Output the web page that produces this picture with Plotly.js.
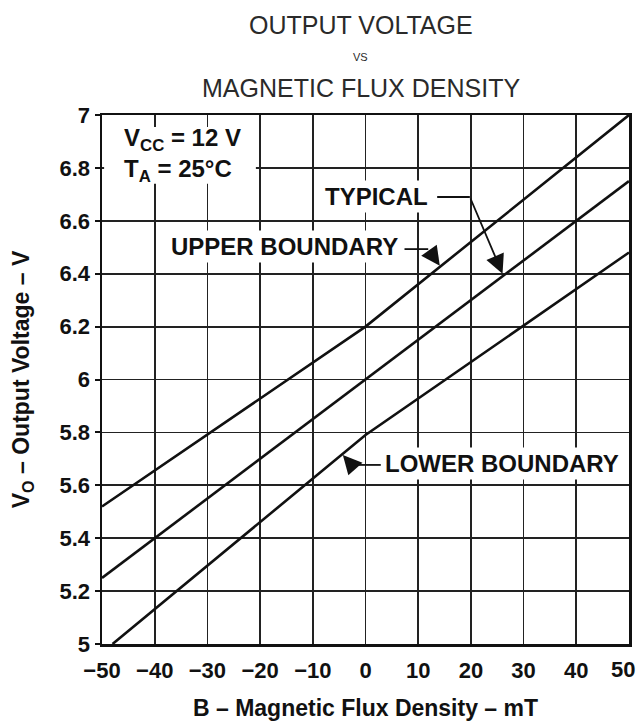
<!DOCTYPE html>
<html><head><meta charset="utf-8">
<script src="https://cdn.plot.ly/plotly-3.0.1.min.js"></script>
<style>html,body{margin:0;padding:0;background:#fff}#chart{width:639px;height:721px}</style>
</head><body><div id="chart"></div>
<script>
// ---- data ----
const upperB = [-50, 0, 50];
const upperV = [5.52, 6.20, 7.00];
const typicalB = [-50, 0, 50];
const typicalV = [5.25, 6.00, 6.75];
const lowerB = [-48, 0, 50];
const lowerV = [5.00, 5.79, 6.48];

const xTickVals = [-50, -40, -30, -20, -10, 0, 10, 20, 30, 40, 50];
const xTickText = ['\u221250', '\u221240', '\u221230', '\u221220', '\u221210', '0', '10', '20', '30', '40', '50'];
const yTickVals = [5, 5.2, 5.4, 5.6, 5.8, 6, 6.2, 6.4, 6.6, 6.8, 7];
const yTickText = ['5', '5.2', '5.4', '5.6', '5.8', '6', '6.2', '6.4', '6.6', '6.8', '7'];

const titleLines = ['OUTPUT VOLTAGE', 'VS', 'MAGNETIC FLUX DENSITY'];
const curveNames = ['UPPER BOUNDARY', 'TYPICAL', 'LOWER BOUNDARY'];
const conditionText = 'V<sub>CC</sub> = 12 V<br>T<sub>A</sub> = 25\u00B0C';

// ---- drawing ----
const INK = '#111';
const FONT = 'Liberation Sans, Arial, Helvetica, sans-serif';
const lineStyle = {color: INK, width: 2.6};
const tickFont = {family: FONT, size: 22, color: INK, weight: 'bold'};

const traces = [
  {x: upperB, y: upperV, name: curveNames[0], mode: 'lines', line: lineStyle},
  {x: typicalB, y: typicalV, name: curveNames[1], mode: 'lines', line: lineStyle},
  {x: lowerB, y: lowerV, name: curveNames[2], mode: 'lines', line: lineStyle}
];

const labelFont = {family: FONT, size: 24, color: INK, weight: 'bold'};

// the last x tick (50) lies on the right frame and against the page edge:
// its label is drawn right-aligned as an annotation
const lastX = xTickVals.length - 1;
const axisXTickVals = xTickVals.slice(0, lastX);
const axisXTickText = xTickText.slice(0, lastX);

function arrow(tipX, tipY, tailX, tailY) {
  return {x: tipX, y: tipY, xref: 'x', yref: 'y', ax: tailX, ay: tailY, axref: 'x', ayref: 'y',
          text: '', showarrow: true, arrowhead: 2, arrowsize: 2.1, arrowwidth: 1.8,
          arrowcolor: INK, standoff: 0, startstandoff: 0};
}
function leader(x0, x1, y) {
  return {type: 'line', xref: 'x', yref: 'y', x0: x0, x1: x1, y0: y, y1: y,
          line: {color: INK, width: 1.8}, layer: 'above'};
}
function titleLine(text, y, size) {
  return {x: 0.491, y: y, xref: 'paper', yref: 'paper', xanchor: 'center', yanchor: 'middle',
          text: text, showarrow: false, font: {family: FONT, size: size, color: '#2a2a2a'}};
}

const layout = {
  width: 639, height: 721,
  margin: {l: 102, r: 10, t: 115, b: 77},
  paper_bgcolor: '#fff', plot_bgcolor: '#fff',
  showlegend: false,
  xaxis: {
    range: [-50, 50], tickvals: axisXTickVals, ticktext: axisXTickText,
    showgrid: true, gridcolor: '#222', gridwidth: 1.8, zeroline: false,
    showline: true, mirror: true, linecolor: INK, linewidth: 2.5,
    ticks: '', ticklabelstandoff: 5,
    tickfont: tickFont,
    title: {text: 'B \u2013 Magnetic Flux Density \u2013 mT', standoff: 19,
            font: {family: FONT, size: 23, color: INK, weight: 'bold'}}
  },
  yaxis: {
    range: [5, 7], tickvals: yTickVals, ticktext: yTickText,
    showgrid: true, gridcolor: '#222', gridwidth: 1.8, zeroline: false,
    showline: true, mirror: true, linecolor: INK, linewidth: 2.5,
    ticks: 'outside', ticklen: 5, tickwidth: 2, tickcolor: INK,
    tickfont: tickFont,
    title: {text: 'V<sub>O</sub> \u2013 Output Voltage \u2013 V', standoff: 24,
            font: {family: FONT, size: 23, color: INK, weight: 'bold'}}
  },
  shapes: [
    {type: 'rect', xref: 'x', yref: 'y', x0: -49.6, x1: -20.8, y0: 6.74, y1: 6.955,
     fillcolor: '#fff', line: {width: 0}, layer: 'between'},
    leader(13.6, 19.8, 6.69),
    leader(7.4, 11.9, 6.493),
    leader(-2.6, 2.9, 5.677)
  ],
  annotations: [
    titleLine(titleLines[0], 1.170, 25),
    titleLine(titleLines[1], 1.110, 11),
    titleLine(titleLines[2], 1.051, 25),
    {x: xTickVals[lastX], y: 0, xref: 'x', yref: 'paper', xanchor: 'right', yanchor: 'middle',
     xshift: 8, yshift: -25, text: xTickText[lastX], showarrow: false, font: tickFont},
    {x: -46.2, y: 6.849, xref: 'x', yref: 'y', xanchor: 'left', yanchor: 'middle', align: 'left',
     text: conditionText, showarrow: false, font: labelFont},
    {x: 12.4, y: 6.69, xref: 'x', yref: 'y', xanchor: 'right', yanchor: 'middle',
     text: curveNames[1], showarrow: false, font: labelFont, bgcolor: '#fff', borderpad: 2},
    {x: 6.7, y: 6.501, xref: 'x', yref: 'y', xanchor: 'right', yanchor: 'middle',
     text: curveNames[0], showarrow: false, font: labelFont, bgcolor: '#fff', borderpad: 2},
    {x: 3.2, y: 5.684, xref: 'x', yref: 'y', xanchor: 'left', yanchor: 'middle',
     text: curveNames[2], showarrow: false, font: labelFont, bgcolor: '#fff', borderpad: 2},
    arrow(26.0, 6.40, 19.8, 6.69),
    arrow(14.1, 6.43, 11.9, 6.493),
    arrow(-4.3, 5.715, -2.6, 5.677)
  ]
};

Plotly.newPlot('chart', traces, layout, {displayModeBar: false, staticPlot: true});
</script></body></html>
